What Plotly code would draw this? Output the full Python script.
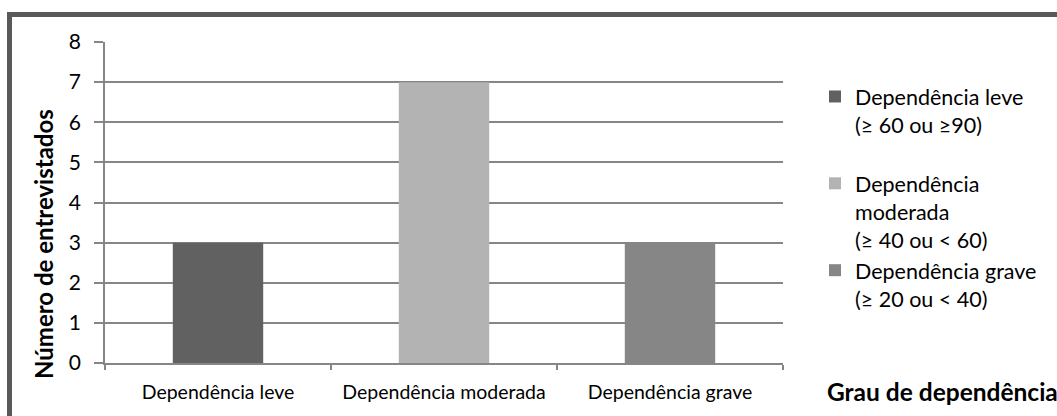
import plotly.graph_objects as go

categories = ["Dependência leve", "Dependência moderada", "Dependência grave"]
values = [3, 7, 3]
legend_names = [
    "Dependência leve<br>(≥ 60 ou ≥90)<br>\u00a0",
    "Dependência<br>moderada<br>(≥ 40 ou < 60)",
    "Dependência grave<br>(≥ 20 ou < 40)",
]
colors = ["#616161", "#b3b3b3", "#868686"]
y_ticks = [0, 1, 2, 3, 4, 5, 6, 7, 8]

W, H = 1057, 416
# plot-area edges in page pixels
PL, PR, PT, PB = 105, 783, 42, 363


def px_x(p):
    """page pixel x -> paper coordinate"""
    return (p - PL) / (PR - PL)


def px_y(p):
    """page pixel y -> paper coordinate"""
    return (PB - p) / (PB - PT)


FONT = "Lato"
fig = go.Figure()
for i, (cat, val) in enumerate(zip(categories, values)):
    fig.add_trace(go.Bar(
        x=[cat], y=[val], name=legend_names[i],
        marker=dict(color=colors[i], line=dict(width=0)),
        width=0.4, legendgroup=f"g{i}",
    ))

fig.update_layout(
    width=W, height=H,
    margin=dict(l=PL, r=W - PR, t=PT, b=H - PB, pad=0),
    paper_bgcolor="white", plot_bgcolor="white",
    barmode="overlay",
    font=dict(family=FONT, color="#000000"),
    showlegend=True,
    legend=dict(
        x=px_x(815), y=px_y(76), xanchor="left", yanchor="top",
        valign="top", tracegroupgap=0,
        font=dict(size=21.5, family=FONT, color="#000000"),
        bgcolor="rgba(0,0,0,0)",
    ),
    xaxis=dict(
        type="category", categoryorder="array", categoryarray=categories,
        tickson="boundaries", ticks="outside", ticklen=5, tickwidth=1.5,
        tickcolor="#868686", showline=True, linecolor="#868686", linewidth=1.5,
        showgrid=False, tickfont=dict(size=19.5, family=FONT, color="#000000"),
        ticklabelstandoff=11, range=[-0.5, 2.5],
    ),
    yaxis=dict(
        range=[0, 8], tickvals=y_ticks, ticktext=[str(v) for v in y_ticks],
        ticks="outside", ticklen=9, tickwidth=1.5, tickcolor="#868686",
        showline=True, linecolor="#868686", linewidth=1.5,
        showgrid=True, gridcolor="#868686", gridwidth=1.5, zeroline=False,
        tickfont=dict(size=21, family=FONT, color="#000000"),
        ticklabelstandoff=9,
    ),
)

fig.add_annotation(
    text="<b>Número de entrevistados</b>", textangle=-90,
    xref="paper", yref="paper", x=px_x(43), y=px_y(244),
    xanchor="center", yanchor="middle", showarrow=False,
    font=dict(size=24, family=FONT, color="#000000"),
)
fig.add_annotation(
    text="<b>Grau de dependência</b>",
    xref="paper", yref="paper", x=px_x(825), y=px_y(392),
    xanchor="left", yanchor="middle", showarrow=False,
    font=dict(size=24.5, family=FONT, color="#000000"),
)
fig.add_shape(
    type="rect", xref="paper", yref="paper",
    x0=px_x(9.5), x1=px_x(1075), y0=px_y(440), y1=px_y(14.5),
    line=dict(color="#595959", width=5), fillcolor="rgba(0,0,0,0)",
    layer="below",
)

fig.write_html(
    "out.html",
    config={"displayModeBar": False},
    post_script="document.body.style.margin='0';document.body.style.overflow='hidden';",
)
